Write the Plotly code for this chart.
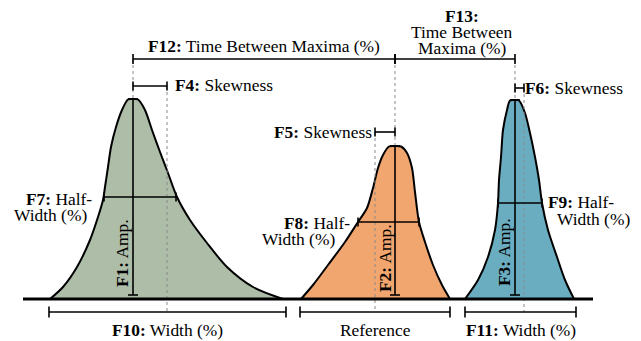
import plotly.graph_objects as go

# ---------------- data (in picture units) ----------------
peak_names = ["F1", "F2", "F3"]
peak_colors = ["#adbda8", "#f2a66f", "#6badc0"]

# outlines of the three peaks (x, y) — y grows downward
green_x = [50, 63, 77, 90, 98, 103, 105, 108, 111, 116, 122, 128, 133, 138, 145, 152, 160, 168, 177, 190, 207, 227, 253, 283]
green_y = [299, 287, 267, 240, 217, 200, 187, 167, 147, 127, 110, 99.5, 99, 99.5, 110, 130, 152, 173, 197, 220, 243, 267, 287, 299]
orange_x = [301, 313, 328, 345, 358, 367, 373, 378, 383, 389, 395, 401, 407, 412, 415, 419, 425, 433, 442, 450]
orange_y = [299, 285, 265, 242, 222, 208, 188, 168, 155, 146.5, 146, 146.5, 153, 168, 192, 222, 242, 265, 285, 299]
blue_x = [465, 478, 488, 495, 498, 499, 501, 503, 507, 510, 515, 519, 525, 530, 535, 539, 542, 548, 557, 565, 574]
blue_y = [299, 280, 257, 230, 203, 180, 157, 130, 110, 100.5, 100, 100.5, 113, 133, 157, 180, 203, 230, 257, 280, 299]

baseline_y = 299
baseline_x = [23, 593]
peak_x = [133, 395, 515]
peak_top = [99, 146, 100]
amp_bottom = 295
skew_x = [167, 375, 524]
skew_y = [86, 132, 88]
half_y = [197, 222, 203]
half_left = [104, 358, 498]
half_right = [176, 419, 542]
width_left = [49, 300, 465]
width_right = [286, 450, 576]
width_y = 312
maxima_y = 59

# ---------------- figure ----------------
fig = go.Figure()
outlines = [(green_x, green_y), (orange_x, orange_y), (blue_x, blue_y)]
for (xs, ys), col in zip(outlines, peak_colors):
    fig.add_trace(go.Scatter(x=xs, y=ys, fill="toself", fillcolor=col, mode="lines",
                             line=dict(color="black", width=2, shape="spline", smoothing=0.8),
                             hoverinfo="skip"))

def hbracket(x0, x1, y, cap=5, width=1.6):
    fig.add_trace(go.Scatter(x=[x0, x1, None, x0, x0, None, x1, x1],
                             y=[y, y, None, y - cap, y + cap, None, y - cap, y + cap],
                             mode="lines", line=dict(color="black", width=width), hoverinfo="skip"))

def vbracket(x, y0, y1, cap=5, width=1.6):
    fig.add_trace(go.Scatter(x=[x, x, None, x - cap, x + cap, None, x - cap, x + cap],
                             y=[y0, y1, None, y0, y0, None, y1, y1],
                             mode="lines", line=dict(color="black", width=width), hoverinfo="skip"))

def dotted(x, y0, y1):
    fig.add_trace(go.Scatter(x=[x, x], y=[y0, y1], mode="lines",
                             line=dict(color="#8a8a8a", width=1, dash="dot"), hoverinfo="skip"))

# dotted guides
for i in range(3):
    dotted(peak_x[i], maxima_y, peak_top[i])
    dotted(skew_x[i], skew_y[i], width_y)

# baseline
fig.add_trace(go.Scatter(x=baseline_x, y=[baseline_y, baseline_y], mode="lines",
                         line=dict(color="black", width=3), hoverinfo="skip"))

# brackets
hbracket(peak_x[0], peak_x[1], maxima_y)
hbracket(peak_x[1], peak_x[2], maxima_y)
for i in range(3):
    hbracket(min(peak_x[i], skew_x[i]), max(peak_x[i], skew_x[i]), skew_y[i], cap=4.5)
    hbracket(half_left[i], half_right[i], half_y[i], cap=4.5)
    hbracket(width_left[i], width_right[i], width_y, cap=5.5)
    vbracket(peak_x[i], peak_top[i], amp_bottom)

FONT = dict(family="Liberation Serif", size=17.4, color="black")

labels = [
    ("<b>F12:</b> Time Between Maxima (%)", 264, 46, "center"),
    ("<b>F13:</b>", 462, 16, "center"),
    ("Time Between", 462, 32, "center"),
    ("Maxima (%)", 462, 48, "center"),
    ("<b>F4:</b> Skewness", 174, 85, "left"),
    ("<b>F5:</b> Skewness", 373, 132, "right"),
    ("<b>F6:</b> Skewness", 524, 88, "left"),
    ("<b>F7:</b> Half-", 93, 199, "right"),
    ("Width (%)", 88, 215, "right"),
    ("<b>F8:</b> Half-", 351, 223, "right"),
    ("Width (%)", 336, 239, "right"),
    ("<b>F9:</b> Half-", 547, 202, "left"),
    ("Width (%)", 556, 219, "left"),
    ("<b>F10:</b> Width (%)", 167, 330, "center"),
    ("Reference", 375, 330, "center"),
    ("<b>F11:</b> Width (%)", 521, 330, "center"),
]
for text, x, y, anchor in labels:
    fig.add_annotation(x=x, y=y, text=text, showarrow=False, xanchor=anchor, yanchor="middle",
                       font=FONT, borderpad=0)

amp_label_x = [122, 385, 504]
amp_label_y = [253, 258, 252]
for name, x, y in zip(peak_names, amp_label_x, amp_label_y):
    fig.add_annotation(x=x, y=y, text=f"<b>{name}:</b> Amp.", showarrow=False, textangle=-90,
                       xanchor="center", yanchor="middle", font=FONT, borderpad=0)

fig.update_layout(
    width=641, height=341, margin=dict(l=0, r=0, t=0, b=0),
    paper_bgcolor="white", plot_bgcolor="white", showlegend=False,
    font=dict(family="Liberation Serif"),
    xaxis=dict(range=[0, 641], visible=False, fixedrange=True),
    yaxis=dict(range=[341, 0], visible=False, fixedrange=True),
)
fig.write_html("out.html")
